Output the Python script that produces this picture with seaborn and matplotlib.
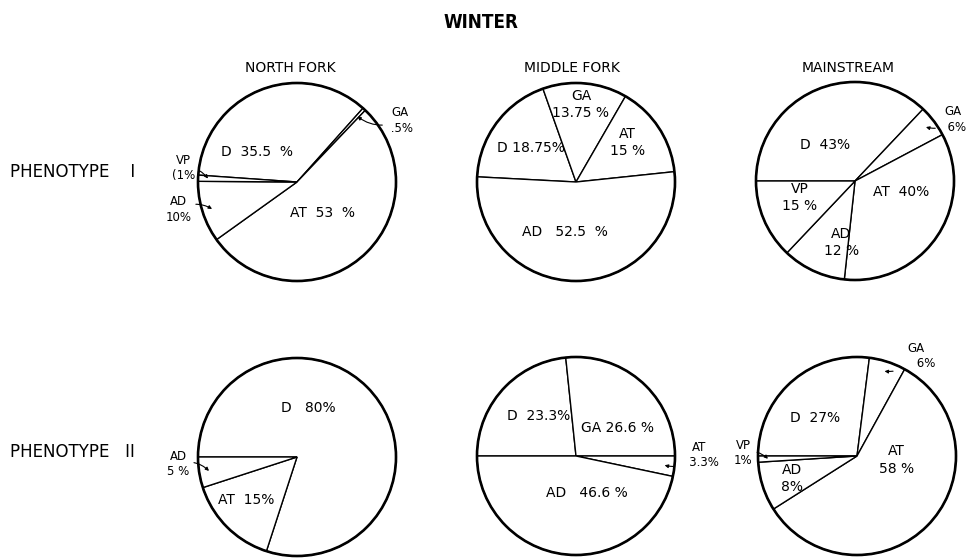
import numpy as np
import matplotlib
matplotlib.use("Agg")
import matplotlib.pyplot as plt
import seaborn as sns

# ---- data: percentages per feeding group, clockwise from the left radius ----
nf1_groups = ["D", "GA", "AT", "AD", "VP"]
nf1_pct = [35.5, 0.5, 53, 10, 1]
mf1_groups = ["D", "GA", "AT", "AD"]
mf1_pct = [18.75, 13.75, 15, 52.5]
ms1_groups = ["D", "GA", "AT", "AD", "VP"]
ms1_pct = [43, 6, 40, 12, 15]

nf2_groups = ["D", "AT", "AD"]
nf2_pct = [80, 15, 5]
mf2_groups = ["D", "GA", "AT", "AD"]
mf2_pct = [23.3, 26.6, 3.3, 46.6]
ms2_groups = ["D", "GA", "AT", "AD", "VP"]
ms2_pct = [27, 6, 58, 8, 1]

# printed labels, same order as the groups
nf1_labels = ["D  35.5  %", "GA\n .5%", "AT  53  %", "AD\n10%", "VP\n(1%"]
mf1_labels = ["D 18.75%", "GA\n13.75 %", "AT\n15 %", "AD   52.5  %"]
ms1_labels = ["D  43%", "GA\n  6%", "AT  40%", "AD\n12 %", "VP\n15 %"]
nf2_labels = ["D   80%", "AT  15%", "AD\n5 %"]
mf2_labels = ["D  23.3%", "GA 26.6 %", "AT\n   3.3%", "AD   46.6 %"]
ms2_labels = ["D  27%", "GA\n     6%", "AT\n58 %", "AD\n8%", "VP\n1%"]

columns = ["NORTH FORK", "MIDDLE FORK", "MAINSTREAM"]
rows = ["PHENOTYPE    I", "PHENOTYPE   II"]

W, H = 979, 559
R = 99  # pie radius in pixels

sns.set_theme(style="white")
plt.rcParams["font.family"] = ["DejaVu Sans"]
plt.rcParams["text.color"] = "black"

fig = plt.figure(figsize=(W / 100, H / 100), dpi=100)
fig.patch.set_facecolor("white")


def px(x, y):
    return x / W, 1 - y / H


def draw_pie(cx, cy, values, labels, start, label_pos, arrows):
    ax = fig.add_axes([(cx - R) / W, (H - cy - R) / H, 2 * R / W, 2 * R / H])
    wedges, _ = ax.pie(values, startangle=start, counterclock=False,
                       colors=["white"] * len(values),
                       wedgeprops=dict(edgecolor="black", linewidth=1.0))
    for w in wedges:
        w.set_clip_on(False)
    ax.add_patch(plt.Circle((0, 0), 1, fill=False, lw=1.9, color="black", clip_on=False))
    ax.set_xlim(-1, 1)
    ax.set_ylim(-1, 1)
    ax.set_aspect("equal")
    ax.axis("off")

    for w, lab, pos, arr in zip(wedges, labels, label_pos, arrows):
        if arr:
            mid = np.deg2rad((w.theta1 + w.theta2) / 2)
            target = (0.9 * np.cos(mid), 0.9 * np.sin(mid))
            ax.annotate(lab, xy=target, xytext=pos, ha="center", va="center",
                        fontsize=8.5, linespacing=1.25,
                        arrowprops=dict(arrowstyle="-|>", lw=0.8, color="black",
                                        mutation_scale=5, shrinkA=1, shrinkB=0,
                                        connectionstyle="arc3,rad=-0.3"))
        else:
            ax.text(pos[0], pos[1], lab, ha="center", va="center",
                    fontsize=10, linespacing=1.3)
    return ax


# phenotype I
draw_pie(297, 182, nf1_pct, nf1_labels, 176,
         [(-0.40, 0.30), (1.04, 0.62), (0.26, -0.31), (-1.20, -0.28), (-1.15, 0.14)],
         [False, True, False, True, True])
draw_pie(576, 182, mf1_pct, mf1_labels, 177,
         [(-0.46, 0.34), (0.05, 0.78), (0.52, 0.40), (-0.11, -0.51)],
         [False, False, False, False])
draw_pie(855, 181, ms1_pct, ms1_labels, 180,
         [(-0.30, 0.36), (0.99, 0.62), (0.47, -0.11), (-0.14, -0.62), (-0.56, -0.17)],
         [False, True, False, False, False])

# phenotype II
draw_pie(297, 457, nf2_pct, nf2_labels, 180,
         [(0.11, 0.49), (-0.51, -0.43), (-1.20, -0.07)],
         [False, False, True])
draw_pie(576, 456, mf2_pct, mf2_labels, 180,
         [(-0.38, 0.40), (0.42, 0.28), (1.24, 0.01), (0.11, -0.37)],
         [False, False, True, False])
draw_pie(857, 456, ms2_pct, ms2_labels, 180,
         [(-0.42, 0.38), (0.60, 1.01), (0.40, -0.04), (-0.66, -0.23), (-1.15, 0.03)],
         [False, True, False, False, True])

# titles
fig.text(*px(481, 22), "WINTER", ha="center", va="center", fontsize=13.5,
         fontweight="bold", fontstretch="condensed")
for x, name in zip([290, 572, 848], columns):
    fig.text(*px(x, 68), name, ha="center", va="center", fontsize=10)
for y, name in zip([172, 452], rows):
    fig.text(*px(10, y), name, ha="left", va="center", fontsize=12)

fig.savefig("out.png", dpi=100, facecolor="white")
